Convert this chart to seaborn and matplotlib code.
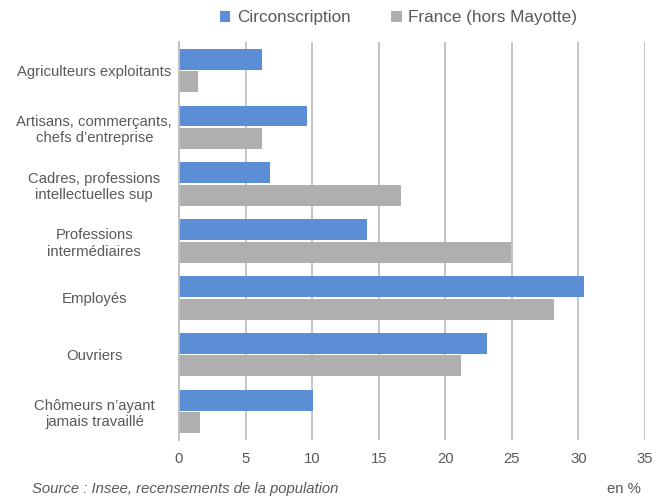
import matplotlib
matplotlib.use("Agg")
import matplotlib.pyplot as plt
import seaborn as sns
import pandas as pd
from matplotlib.patches import Patch

categories = ["Agriculteurs exploitants",
              "Artisans, commerçants,\nchefs d’entreprise",
              "Cadres, professions\nintellectuelles sup",
              "Professions\nintermédiaires",
              "Employés",
              "Ouvriers",
              "Chômeurs n’ayant\njamais travaillé"]
circ = [6.2, 9.6, 6.8, 14.1, 30.4, 23.1, 10.1]
france = [1.4, 6.2, 16.7, 24.9, 28.2, 21.2, 1.6]
series = ["Circonscription", "France (hors Mayotte)"]
colors = ["#5B8ED5", "#B0AFB0"]
xticks = [0, 5, 10, 15, 20, 25, 30, 35]

df = pd.DataFrame({
    "cat": categories * 2,
    "val": circ + france,
    "serie": [series[0]] * len(categories) + [series[1]] * len(categories),
})

sns.set_style("white")
plt.rcParams["font.family"] = ["Liberation Sans", "DejaVu Sans"]
txt = "#595959"

fig = plt.figure(figsize=(6.71, 4.97), dpi=100)
ax = fig.add_axes([0.2668, 0.1147, 0.6945, 0.8008])

sns.barplot(data=df, y="cat", x="val", hue="serie", order=categories,
            hue_order=series, palette=colors, orient="h", ax=ax,
            width=0.79, gap=0.07, saturation=1, legend=False, linewidth=0)

ax.set_xlim(0, 35)
ax.set_xticks(xticks)
ax.set_xticklabels([str(t) for t in xticks], fontsize=10.7, color=txt)
ax.tick_params(axis="x", length=0, pad=9)
for lab in ax.get_yticklabels():
    lab.set_fontsize(10.7)
    lab.set_color(txt)
    lab.set_horizontalalignment("center")
    lab.set_multialignment("center")
ax.tick_params(axis="y", length=0, pad=61)
ax.set_xlabel("")
ax.set_ylabel("")
ax.grid(axis="x", color="#BFBFBF", linewidth=1.3)
ax.set_axisbelow(True)
for s in ["top", "right", "bottom"]:
    ax.spines[s].set_visible(False)
ax.spines["left"].set_color("#BFBFBF")
ax.spines["left"].set_linewidth(1.3)

handles = [Patch(facecolor=c, edgecolor="none") for c in colors]
fig.legend(handles, series, loc="upper center", bbox_to_anchor=(0.594, 1.01),
           ncol=2, frameon=False, fontsize=12.3, handlelength=0.6,
           handleheight=0.6, handletextpad=0.4, columnspacing=2.4,
           labelcolor=txt)

fig.text(0.048, 0.008, "Source : Insee, recensements de la population",
         fontsize=10.7, style="italic", color=txt)
fig.text(0.955, 0.003, "en %", fontsize=10.7, color=txt, ha="right",
         va="bottom")

fig.savefig("out.png", dpi=100)
